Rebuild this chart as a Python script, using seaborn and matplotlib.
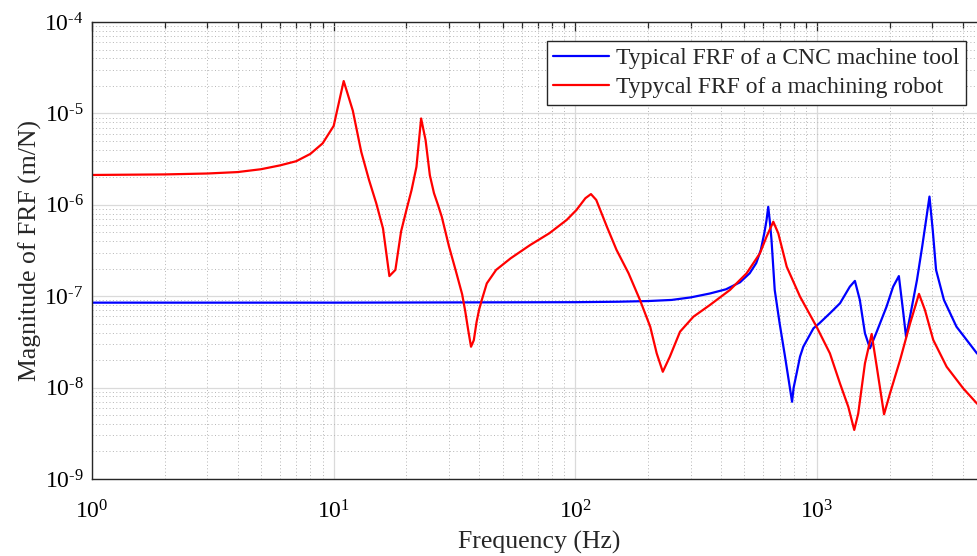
import matplotlib
matplotlib.use("Agg")
import matplotlib.pyplot as plt
import seaborn as sns
import pandas as pd
import numpy as np

# ---- data ----
cnc_freq = [1, 10, 100, 150, 200, 250, 300, 360, 420, 480, 526, 560, 585, 605, 618,
            628, 638, 648, 668, 700, 737, 788, 800, 823, 850, 877, 966, 1022, 1130,
            1244, 1366, 1434, 1503, 1578, 1655, 1766, 1938, 2064, 2180, 2275, 2334,
            2424, 2590, 2722, 2812, 2918, 3010, 3107, 3349, 3774, 4586, 5000]
cnc_mag = [8.5e-8, 8.5e-8, 8.6e-8, 8.7e-8, 8.85e-8, 9.1e-8, 9.7e-8, 1.07e-7, 1.19e-7,
           1.42e-7, 1.78e-7, 2.3e-7, 3.2e-7, 4.9e-7, 6.8e-7, 9.5e-7, 6.5e-7, 4.1e-7,
           1.17e-7, 5.05e-8, 2.18e-8, 7.0e-9, 1.0e-8, 1.43e-8, 2.18e-8, 2.8e-8,
           4.45e-8, 5.05e-8, 6.5e-8, 8.36e-8, 1.27e-7, 1.47e-7, 9.1e-8, 3.93e-8,
           2.69e-8, 4.09e-8, 7.67e-8, 1.27e-7, 1.66e-7, 6.5e-8, 3.6e-8, 5.97e-8,
           1.5e-7, 3.48e-7, 6.26e-7, 1.23e-6, 5.3e-7, 1.94e-7, 9.1e-8, 4.64e-8,
           2.37e-8, 2.0e-8]

robot_freq = [1, 2, 3, 4, 5, 6, 7, 8, 9, 10, 11, 12, 13, 14, 15, 16, 17, 18, 19, 20,
              21, 22, 23, 24, 25, 26, 27, 28, 30, 32, 34, 35, 36, 37, 38, 39, 40, 41,
              43, 47, 54, 65, 78, 92, 101, 110, 116, 122, 135, 148, 166, 185, 204,
              217, 230, 246, 271, 308, 360, 436, 511, 580, 618, 659, 691, 749, 850,
              995, 1130, 1244, 1346, 1425, 1480, 1578, 1682, 1766, 1893, 2005, 2205,
              2424, 2640, 2795, 3025, 3437, 4025, 4586, 5000]
robot_mag = [2.12e-6, 2.15e-6, 2.2e-6, 2.28e-6, 2.45e-6, 2.7e-6, 3.0e-6, 3.6e-6,
             4.7e-6, 7.3e-6, 2.26e-5, 1.07e-5, 3.8e-6, 1.87e-6, 1.04e-6, 5.5e-7,
             1.66e-7, 1.94e-7, 5.1e-7, 8.8e-7, 1.45e-6, 2.6e-6, 8.8e-6, 5.1e-6,
             2.1e-6, 1.34e-6, 1.0e-6, 7.4e-7, 3.5e-7, 1.9e-7, 1.05e-7, 6.9e-8,
             4.3e-8, 2.8e-8, 3.3e-8, 5.2e-8, 7.2e-8, 9.1e-8, 1.38e-7, 1.94e-7,
             2.6e-7, 3.63e-7, 4.88e-7, 6.82e-7, 8.77e-7, 1.18e-6, 1.31e-6, 1.13e-6,
             5.76e-7, 3.21e-7, 1.78e-7, 9.1e-8, 4.64e-8, 2.37e-8, 1.49e-8, 2.18e-8,
             4.09e-8, 5.97e-8, 8.0e-8, 1.17e-7, 1.78e-7, 2.94e-7, 4.48e-7, 6.53e-7,
             4.88e-7, 2.1e-7, 9.9e-8, 4.64e-8, 2.37e-8, 1.11e-8, 6.18e-9, 3.44e-9,
             5.2e-9, 1.84e-8, 3.86e-8, 1.69e-8, 5.1e-9, 8.7e-9, 2.0e-8, 5.0e-8,
             1.06e-7, 7.06e-8, 3.32e-8, 1.69e-8, 9.8e-9, 6.7e-9, 5.6e-9]

labels = ["Typical FRF of a CNC machine tool", "Typycal FRF of a machining robot"]
colors = ["#0000ff", "#ff0000"]

sns.set_theme(style="white")
plt.rcParams["font.family"] = ["Liberation Serif", "DejaVu Serif"]
plt.rcParams["mathtext.fontset"] = "custom"
plt.rcParams["mathtext.rm"] = "Liberation Serif"
plt.rcParams["mathtext.it"] = "Liberation Serif:italic"
plt.rcParams["axes.unicode_minus"] = False

W, H = 977, 556
fig = plt.figure(figsize=(W / 100, H / 100), dpi=100)
left_px, right_px, top_px, bot_px = 92, 986, 22, 479
ax = fig.add_axes([left_px / W, 1 - bot_px / H, (right_px - left_px) / W,
                   (bot_px - top_px) / H])
ax.set_xscale("log")
ax.set_yscale("log")

df_cnc = pd.DataFrame({"f": cnc_freq, "m": cnc_mag})
df_rob = pd.DataFrame({"f": robot_freq, "m": robot_mag})
sns.lineplot(data=df_cnc, x="f", y="m", ax=ax, color=colors[0], lw=1.6,
             label=labels[0], estimator=None, sort=True)
sns.lineplot(data=df_rob, x="f", y="m", ax=ax, color=colors[1], lw=1.6,
             label=labels[1], estimator=None, sort=True)

ax.set_xlim(1, 5000)
ax.set_ylim(1e-9, 1e-4)

ax.grid(True, which="major", color="#dadada", lw=0.9, ls="-")
ax.grid(True, which="minor", color="#b5b5b5", lw=0.7, ls=(0, (1, 2.5)))
ax.set_axisbelow(True)

ax.xaxis.set_minor_locator(matplotlib.ticker.LogLocator(base=10, subs=np.arange(2, 10), numticks=20))
ax.yaxis.set_minor_locator(matplotlib.ticker.LogLocator(base=10, subs=np.arange(2, 10), numticks=20))
ax.xaxis.set_minor_formatter(matplotlib.ticker.NullFormatter())
ax.yaxis.set_minor_formatter(matplotlib.ticker.NullFormatter())


def pow_fmt(v, pos):
    e = int(round(np.log10(v)))
    if e < 0:
        return r"$10^{\text{-%d}}$" % (-e)
    return r"$10^{%d}$" % e


ax.xaxis.set_major_formatter(matplotlib.ticker.FuncFormatter(pow_fmt))
ax.yaxis.set_major_formatter(matplotlib.ticker.FuncFormatter(pow_fmt))

ax.tick_params(which="both", direction="in", top=True, right=True,
               colors="#262626", labelcolor="black", labelsize=17, width=0.9)
ax.tick_params(which="major", length=6.5)
ax.tick_params(axis="x", which="major", pad=15)
ax.tick_params(axis="y", which="major", pad=6)
ax.tick_params(which="minor", length=4)
for s in ax.spines.values():
    s.set_color("#262626")
    s.set_linewidth(1.0)

ax.set_xlabel("Frequency (Hz)", fontsize=18.5, labelpad=6)
ax.set_ylabel("Magnitude of FRF (m/N)", fontsize=18.5, labelpad=2)

ax_w = right_px - left_px
ax_h = bot_px - top_px
leg = ax.legend(loc="upper right",
                bbox_to_anchor=((966 - left_px) / ax_w, (bot_px - 41) / ax_h),
                borderaxespad=0, fontsize=17, frameon=True, fancybox=False,
                edgecolor="#262626", framealpha=1, handlelength=2.35,
                handletextpad=0.3, borderpad=0.28, labelspacing=0.32)
leg.get_frame().set_linewidth(1.0)

fig.savefig("out.png", dpi=100)
